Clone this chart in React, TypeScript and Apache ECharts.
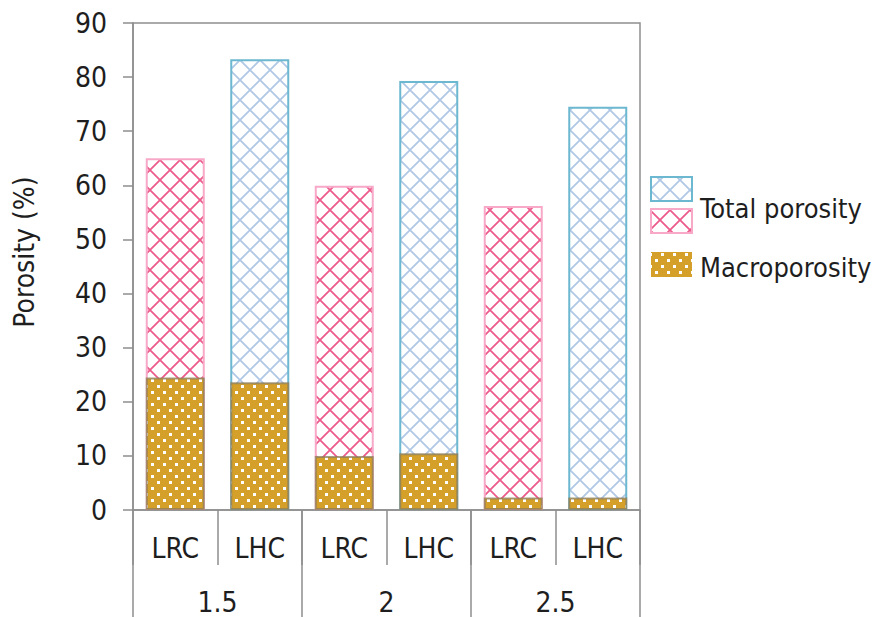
import React, { useEffect, useRef } from "react";
import * as echarts from "echarts";

const groups = ["1.5", "2", "2.5"];
const subCats = ["LRC", "LHC"];
const totalPorosity = [65, 83.3, 59.9, 79.3, 56.2, 74.5];
const macroporosity = [24.5, 23.6, 10.0, 10.5, 2.3, 2.3];
const yTicks = { min: 0, max: 90, interval: 10 };

const FONT = "'DejaVu Sans Condensed', 'DejaVu Sans', sans-serif";
const FS = 28;
const LEGEND_FS = 27;

function crossTile(color: string, lw: number) {
  const c = document.createElement("canvas");
  c.width = 20;
  c.height = 20;
  const g = c.getContext("2d")!;
  g.strokeStyle = color;
  g.lineWidth = lw;
  g.beginPath();
  g.moveTo(-2, -2);
  g.lineTo(22, 22);
  g.moveTo(22, -2);
  g.lineTo(-2, 22);
  g.stroke();
  return { image: c, repeat: "repeat", imageWidth: 20, imageHeight: 20 };
}

function dotTile() {
  const c = document.createElement("canvas");
  c.width = 12;
  c.height = 12;
  const g = c.getContext("2d")!;
  g.fillStyle = "#d4a02a";
  g.fillRect(0, 0, 12, 12);
  g.fillStyle = "#ffffff";
  g.fillRect(1, 1, 3, 3);
  g.fillRect(7, 7, 3, 3);
  return { image: c, repeat: "repeat", imageWidth: 12, imageHeight: 12 };
}

export default function App() {
  const ref = useRef<HTMLDivElement>(null);
  useEffect(() => {
    if (!ref.current) return;
    const chart = echarts.init(ref.current, null, { renderer: "svg" });
    const pink = crossTile("#ec5b8b", 1.8);
    const blue = crossTile("#b0c8e6", 1.8);
    const dots = dotTile();
    const pinkLegend = crossTile("#ec5b8b", 1.8);
    const blueLegend = crossTile("#b0c8e6", 1.8);
    const dotsLegend = dotTile();

    const cats: string[] = [];
    groups.forEach(() => subCats.forEach((s) => cats.push(s)));

    const totalData = totalPorosity.map((v, i) => ({
      value: v,
      itemStyle:
        i % 2 === 0
          ? { color: pink, borderColor: "#f7a9c7", borderWidth: 2 }
          : { color: blue, borderColor: "#6bb8d0", borderWidth: 2 },
    }));

    const axisGray = "#8e8e8e";
    const textColor = "#1e1e1e";

    chart.setOption({
      animation: false,
      backgroundColor: "#ffffff",
      grid: {
        left: 133,
        right: 234,
        top: 23,
        bottom: 107,
        show: true,
        borderColor: axisGray,
        borderWidth: 1.5,
        containLabel: false,
      },
      xAxis: [
        {
          type: "category",
          data: cats,
          position: "bottom",
          offset: 0,
          axisLine: { show: true, lineStyle: { color: axisGray, width: 1.5 } },
          axisTick: { show: true, length: 55, lineStyle: { color: axisGray, width: 1.5 } },
          axisLabel: { margin: 24, fontSize: FS, color: textColor, fontFamily: FONT },
          splitLine: { show: false },
        },
        {
          type: "category",
          data: groups,
          position: "bottom",
          offset: 0,
          gridIndex: 0,
          axisLine: { show: false },
          axisTick: { show: true, length: 110, lineStyle: { color: axisGray, width: 1.5 } },
          axisLabel: { margin: 78, fontSize: FS, color: textColor, fontFamily: FONT },
          splitLine: { show: false },
        },
      ],
      yAxis: {
        type: "value",
        min: yTicks.min,
        max: yTicks.max,
        interval: yTicks.interval,
        axisLine: { show: true, lineStyle: { color: axisGray, width: 1.5 } },
        axisTick: { show: true, length: 10, lineStyle: { color: axisGray, width: 1.5 } },
        axisLabel: { margin: 26, fontSize: FS, color: textColor, fontFamily: FONT },
        splitLine: { show: false },
      },
      series: [
        {
          name: "Total porosity",
          type: "bar",
          xAxisIndex: 0,
          barWidth: 59,
          barGap: "-100%",
          data: totalData,
        },
        {
          name: "Macroporosity",
          type: "bar",
          xAxisIndex: 0,
          barWidth: 59,
          barGap: "-100%",
          itemStyle: { color: dots, borderColor: "rgba(140,125,90,0.75)", borderWidth: 2 },
          data: macroporosity,
        },
      ],
      graphic: [
        {
          type: "text",
          x: 24,
          y: 252,
          rotation: Math.PI / 2,
          style: {
            text: "Porosity (%)",
            fontSize: FS,
            fontFamily: FONT,
            fill: textColor,
            align: "center",
            verticalAlign: "middle",
          },
        },
        {
          type: "rect",
          shape: { x: 651, y: 177, width: 41, height: 24 },
          style: { fill: blueLegend, stroke: "#6bb8d0", lineWidth: 2 },
        },
        {
          type: "rect",
          shape: { x: 651, y: 209, width: 41, height: 24 },
          style: { fill: pinkLegend, stroke: "#f7a9c7", lineWidth: 2 },
        },
        {
          type: "rect",
          shape: { x: 651, y: 252, width: 41, height: 25 },
          style: { fill: dotsLegend, lineWidth: 0 },
        },
        {
          type: "text",
          x: 700,
          y: 208,
          style: {
            text: "Total porosity",
            fontSize: LEGEND_FS,
            fontFamily: FONT,
            fill: textColor,
            verticalAlign: "middle",
          },
        },
        {
          type: "text",
          x: 700,
          y: 267,
          style: {
            text: "Macroporosity",
            fontSize: LEGEND_FS,
            fontFamily: FONT,
            fill: textColor,
            verticalAlign: "middle",
          },
        },
      ],
    });
    return () => chart.dispose();
  }, []);
  return (
    <div
      ref={ref}
      style={{ position: "fixed", left: 0, top: 0, width: 874, height: 617 }}
    />
  );
}
